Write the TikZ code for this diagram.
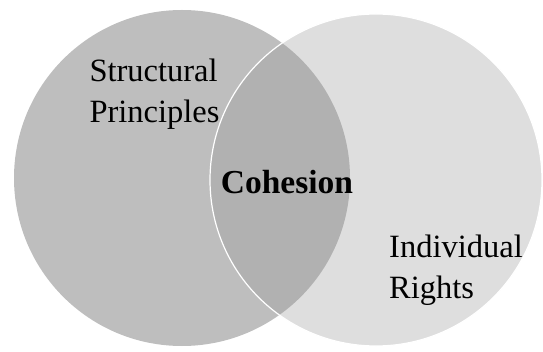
\documentclass[tikz,border=0pt]{standalone}
\usepackage{fontspec}
\setmainfont{Liberation Serif}
\definecolor{leftgray}{RGB}{190,190,190}
\definecolor{rightgray}{RGB}{222,222,222}
\definecolor{bothgray}{RGB}{177,177,177}
\tikzset{
    label/.style={font=\fontsize{32.5}{41}\selectfont, align=left, inner sep=0pt, text=black},
}
\begin{document}
\begin{tikzpicture}[x=1pt, y=-1pt]
        \useasboundingbox (0,0) rectangle (543,352);
        \coordinate (lc) at (182,178);
        \coordinate (rc) at (376,180);
        \fill[leftgray] (lc) circle (168);
        \fill[rightgray] (rc) circle (166);
        \begin{scope}
            \clip (lc) circle (168);
            \fill[bothgray] (rc) circle (166);
        \end{scope}
        \draw[white, line width=1.2pt] (rc) circle (166);
        \node[label] (struct) at (154.5,94) {Structural\\Principles};
        \node[label, font=\fontsize{33.5}{41}\selectfont\bfseries] (coh) at (287,182.5) {Cohesion};
        \node[label] (indiv) at (456,270) {Individual\\Rights};
    \end{tikzpicture}
\end{document}
